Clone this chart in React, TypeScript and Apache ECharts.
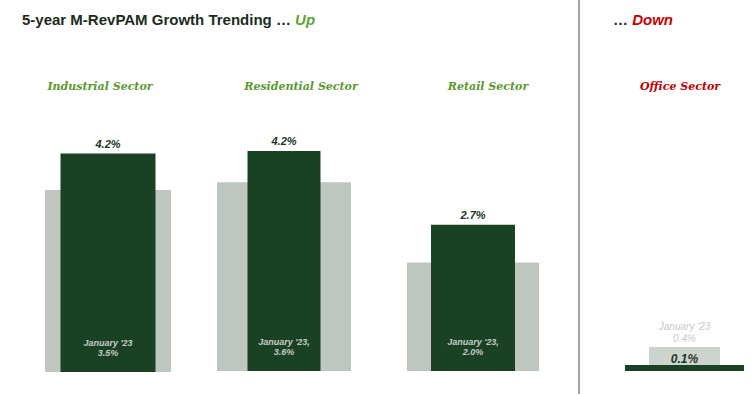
import React, { useEffect, useRef } from "react";
import * as echarts from "echarts";

const sectors = ["Industrial Sector", "Residential Sector", "Retail Sector", "Office Sector"];
const currentGrowth = [4.2, 4.2, 2.7, 0.1];
const jan23Growth = [3.5, 3.6, 2.0, 0.4];
const jan23Captions = ["January '23", "January '23,", "January '23,", "January '23"];
const mainTitle = "5-year M-RevPAM Growth Trending … ";
const upWord = "Up";
const downWord = "Down";

// layout per panel (pixels)
const panels = [
  { left: 45, width: 126, top: 112, bottom: 22, greyW: 126, darkW: 95, titleX: 100, greyColor: "#bdc7bf" },
  { left: 217, width: 134, top: 109, bottom: 23, greyW: 134, darkW: 73, titleX: 301, greyColor: "#bdc7bf" },
  { left: 407, width: 132, top: 100, bottom: 23, greyW: 132, darkW: 84, titleX: 488, greyColor: "#bdc7bf" },
  { left: 625, width: 119, top: 71, bottom: 23, greyW: 71, darkW: 119, titleX: 680, greyColor: "#cdd4ce" },
];

const DARK = "#1b4124";
const SANS = "Liberation Sans, Arial, sans-serif";
const SERIF = "DejaVu Serif, serif";

export default function App() {
  const ref = useRef<HTMLDivElement>(null);
  useEffect(() => {
    document.body.style.margin = "0";
    const chart = echarts.init(ref.current!, null, { renderer: "svg" });
    const grid: any[] = [];
    const xAxis: any[] = [];
    const yAxis: any[] = [];
    const series: any[] = [];
    panels.forEach((p, i) => {
      grid.push({ left: p.left, width: p.width, top: p.top, bottom: p.bottom });
      xAxis.push({ type: "category", gridIndex: i, data: [sectors[i]], show: false });
      xAxis.push({ type: "category", gridIndex: i, data: [sectors[i]], show: false });
      yAxis.push({ type: "value", gridIndex: i, min: 0, max: 5, show: false, splitLine: { show: false } });
      const isOffice = i === 3;
      series.push({
        type: "bar",
        name: "January '23",
        xAxisIndex: 2 * i,
        yAxisIndex: i,
        barWidth: p.greyW,
        data: [jan23Growth[i]],
        itemStyle: { color: p.greyColor },
        label: isOffice
          ? {
              show: true,
              position: "top",
              distance: 3,
              formatter: () => `${jan23Captions[i]}\n${jan23Growth[i].toFixed(1)}%`,
              color: "#c6cbc6",
              fontFamily: SANS,
              fontStyle: "italic",
              fontSize: 10,
              lineHeight: 12,
            }
          : { show: false },
      });
      series.push({
        type: "bar",
        name: "Current",
        xAxisIndex: 2 * i + 1,
        yAxisIndex: i,
        barWidth: p.darkW,
        data: [currentGrowth[i]],
        itemStyle: { color: DARK },
        label: {
          show: true,
          position: "top",
          distance: isOffice ? 0 : 4,
          formatter: (v: any) => `${Number(v.value).toFixed(1)}%`,
          color: "#1e3526",
          fontFamily: SANS,
          fontStyle: "italic",
          fontWeight: "bold",
          fontSize: isOffice ? 12 : 11,
        },
      });
      if (!isOffice) {
        series.push({
          type: "scatter",
          xAxisIndex: 2 * i + 1,
          yAxisIndex: i,
          symbolSize: 0,
          silent: true,
          data: [[sectors[i], 0]],
          label: {
            show: true,
            position: "top",
            distance: 14,
            formatter: () => `${jan23Captions[i]}\n${jan23Growth[i].toFixed(1)}%`,
            color: "#eeeeee",
            fontFamily: SANS,
            fontStyle: "italic",
            fontWeight: "bold",
            fontSize: 9,
            lineHeight: 10,
          },
        });
      }
    });

    const graphic: any[] = [
      {
        type: "line",
        shape: { x1: 579, y1: 0, x2: 579, y2: 394 },
        style: { stroke: "#a3a3a3", lineWidth: 2 },
      },
    ];
    panels.forEach((p, i) => {
      graphic.push({
        type: "text",
        x: p.titleX,
        y: 86,
        style: {
          text: sectors[i],
          align: "center",
          verticalAlign: "middle",
          fill: i === 3 ? "#c00000" : "#5b9a2e",
          font: `italic bold 11px ${SERIF}`,
        },
      });
    });

    chart.setOption({
      animation: false,
      title: [
        {
          left: 22,
          top: 12,
          padding: 0,
          text: `{a|${mainTitle}}{b|${upWord}}`,
          textStyle: {
            rich: {
              a: { fontFamily: SANS, fontWeight: "bold", fontSize: 15, color: "#1b2b1e" },
              b: { fontFamily: SANS, fontWeight: "bold", fontStyle: "italic", fontSize: 15, color: "#5fa33a" },
            },
          },
        },
        {
          left: 613,
          top: 12,
          padding: 0,
          text: `{a|… }{b|${downWord}}`,
          textStyle: {
            rich: {
              a: { fontFamily: SANS, fontWeight: "bold", fontSize: 15, color: "#1b2b1e" },
              b: { fontFamily: SANS, fontWeight: "bold", fontStyle: "italic", fontSize: 15, color: "#cc0000" },
            },
          },
        },
      ],
      grid,
      xAxis,
      yAxis,
      series,
      graphic,
    });
    return () => chart.dispose();
  }, []);
  return <div ref={ref} style={{ width: 756, height: 394 }} />;
}
